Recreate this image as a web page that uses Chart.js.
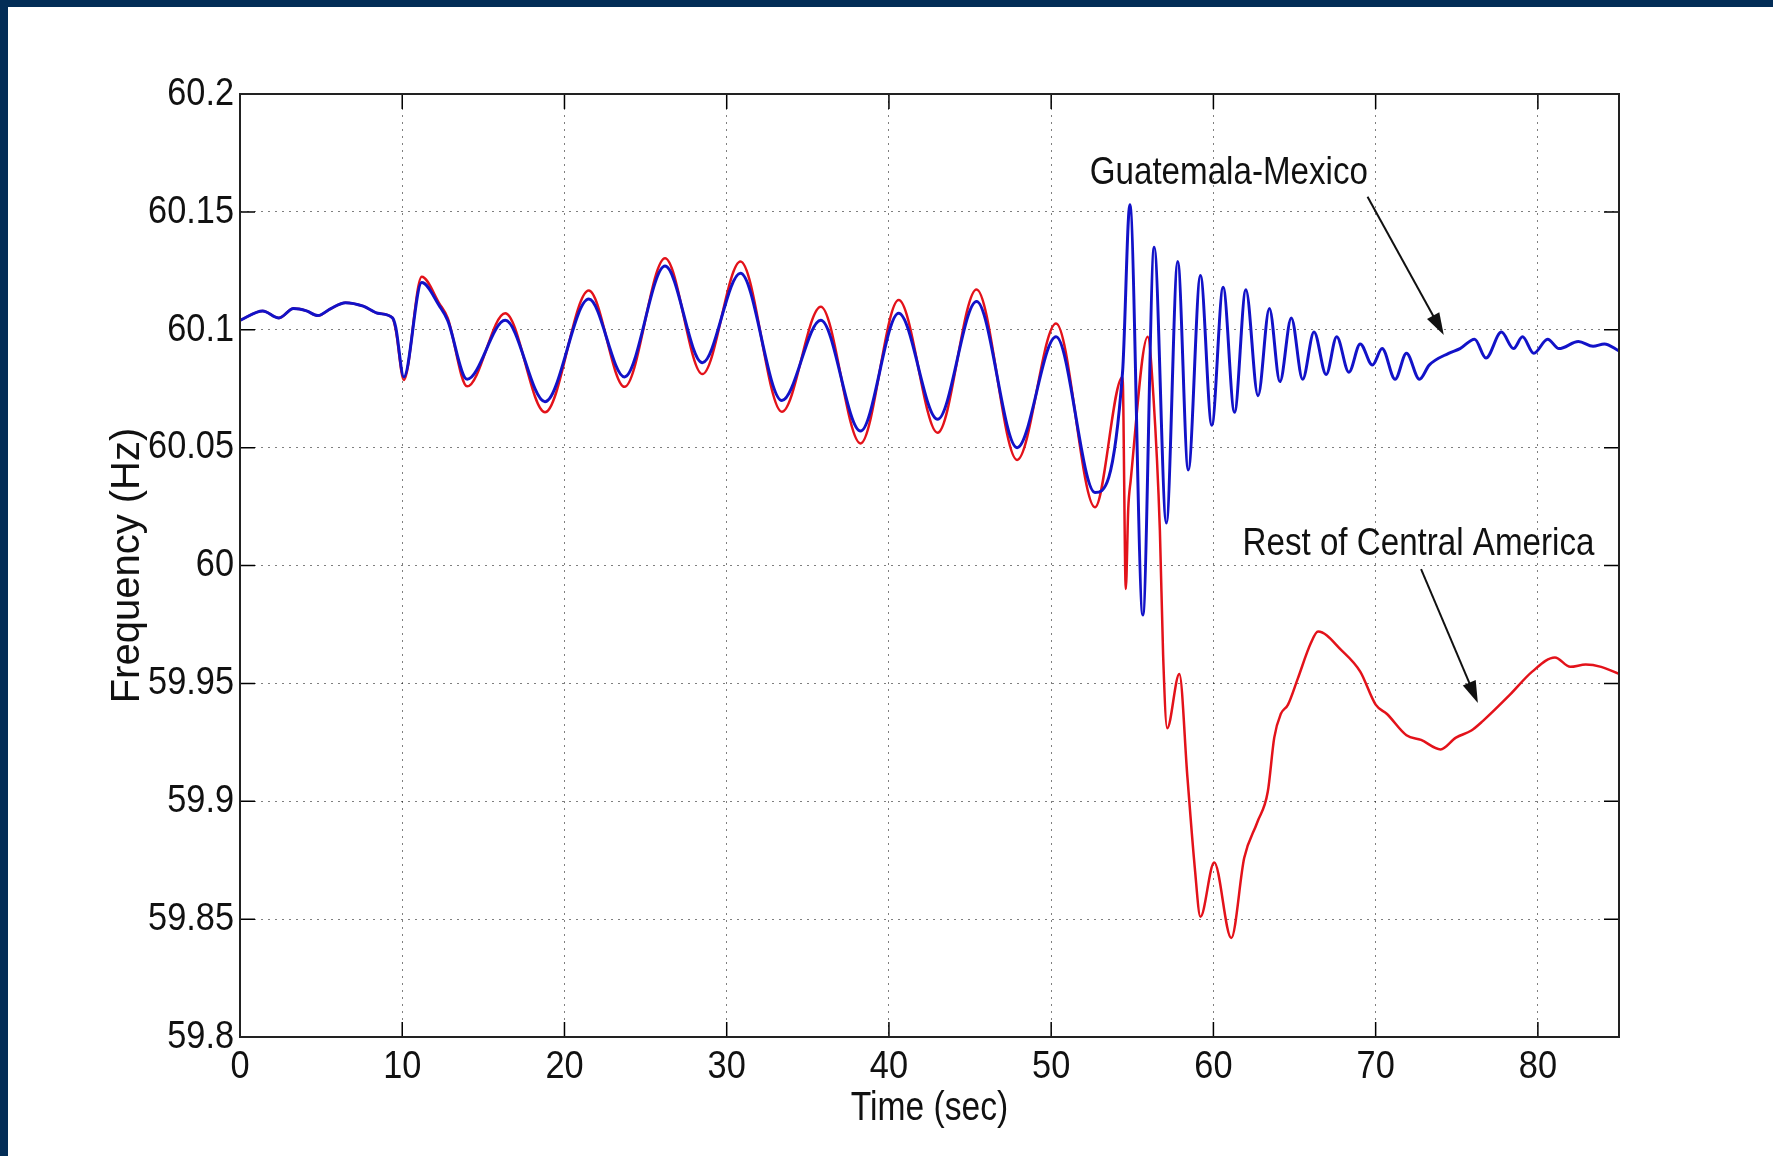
<!DOCTYPE html>
<html>
<head>
<meta charset="utf-8">
<title>Frequency (Hz)</title>
<script src="https://cdn.jsdelivr.net/npm/chart.js@4.4.1/dist/chart.umd.min.js"></script>
<style>
  html, body { margin: 0; padding: 0; background: #fff; overflow: hidden; }
  #wrap { position: relative; width: 1773px; height: 1156px; }
  #myChart { position: absolute; left: 0; top: 0; }
  .bar { position: absolute; background: #032d57; }
</style>
</head>
<body>
<div id="wrap">
  <canvas id="myChart" width="1773" height="1156"></canvas>
  <div class="bar" style="left:0;top:0;width:1773px;height:7px"></div>
  <div class="bar" style="left:0;top:0;width:8px;height:1156px"></div>
</div>
<script>
// Guatemala-Mexico (blue)
const timeGM = [0, 1.4, 2.4, 3.3, 4.1, 4.8, 5.6, 6.5, 7.6, 8.5, 9.4, 9.6, 10.1, 11.2, 12.3, 12.8, 14.0, 16.35, 18.8, 21.5,
  23.7, 26.2, 28.5, 30.85, 33.4, 35.8, 38.25, 40.6, 43.0, 45.4, 47.9, 50.3, 52.7, 54.4, 54.85, 55.65, 56.35, 57.1, 57.8, 58.45,
  59.2, 59.9, 60.6, 61.3, 62.0, 62.75, 63.45, 64.1, 64.8, 65.5, 66.2, 66.95, 67.6, 68.35, 69.05, 69.8, 70.4, 71.2, 71.9, 72.7,
  73.3, 74.5, 75.2, 76.1, 76.8, 77.75, 78.5, 79.05, 79.75, 80.6, 81.3, 82.5, 83.4, 84.1, 85];
const freqGM = [60.104, 60.108, 60.105, 60.109, 60.108, 60.106, 60.109, 60.1115, 60.110, 60.107, 60.105, 60.101, 60.080, 60.120, 60.110, 60.104, 60.079, 60.104, 60.0695, 60.113,
  60.080, 60.127, 60.086, 60.124, 60.070, 60.104, 60.057, 60.107, 60.062, 60.112, 60.050, 60.097, 60.031, 60.082, 60.153, 59.979, 60.135, 60.018, 60.129, 60.0405,
  60.123, 60.0595, 60.118, 60.065, 60.117, 60.072, 60.109, 60.078, 60.105, 60.079, 60.099, 60.081, 60.097, 60.082, 60.094, 60.085, 60.092, 60.079, 60.090, 60.079,
  60.085, 60.090, 60.092, 60.096, 60.088, 60.099, 60.092, 60.097, 60.090, 60.096, 60.092, 60.095, 60.093, 60.094, 60.091];

// Rest of Central America (red)
const timeCA = [0, 1.4, 2.4, 3.3, 4.1, 4.8, 5.6, 6.5, 7.6, 8.5, 9.4, 9.6, 10.1, 11.2, 12.3, 12.8, 14.0, 16.35, 18.8, 21.5,
  23.7, 26.2, 28.5, 30.85, 33.4, 35.8, 38.25, 40.6, 43.0, 45.4, 47.9, 50.3, 52.7, 54.4, 54.6, 54.75, 54.9, 55.95, 56.3, 56.7,
  56.9, 57.15, 57.9, 58.4, 58.85, 59.2, 60.05, 61.1, 61.9, 62.7, 63.35, 63.75, 64.15, 64.6, 65.2, 66.0, 66.45, 67.9, 69.05, 70.0,
  70.7, 71.9, 72.8, 74.0, 74.95, 75.9, 76.6, 78.25, 79.65, 81.05, 82.0, 82.95, 83.9, 85];
const freqCA = [60.104, 60.108, 60.105, 60.109, 60.108, 60.106, 60.109, 60.1115, 60.110, 60.107, 60.105, 60.100, 60.0787, 60.1225, 60.111, 60.105, 60.076, 60.107, 60.065, 60.1166,
  60.0758, 60.1303, 60.0812, 60.1289, 60.0652, 60.1098, 60.0518, 60.1126, 60.0563, 60.1171, 60.0448, 60.1027, 60.0247, 60.080, 59.990, 60.024, 60.036, 60.097, 60.072, 60.015,
  59.962, 59.931, 59.954, 59.910, 59.872, 59.851, 59.874, 59.842, 59.876, 59.891, 59.904, 59.927, 59.937, 59.941, 59.952, 59.967, 59.972, 59.964, 59.955, 59.941,
  59.937, 59.928, 59.926, 59.922, 59.927, 59.930, 59.934, 59.945, 59.955, 59.961, 59.957, 59.958, 59.957, 59.954];

const xTicks = [0, 10, 20, 30, 40, 50, 60, 70, 80];
const xTickLabels = ['0', '10', '20', '30', '40', '50', '60', '70', '80'];
const yTicks = [59.8, 59.85, 59.9, 59.95, 60, 60.05, 60.1, 60.15, 60.2];
const yTickLabels = ['59.8', '59.85', '59.9', '59.95', '60', '60.05', '60.1', '60.15', '60.2'];
const xTitle = 'Time (sec)';
const yTitle = 'Frequency (Hz)';

// text labels with arrows, in data coordinates
const notes = [
  {text: 'Guatemala-Mexico', x: 60.95, y: 60.1665, from: [69.5, 60.1564], to: [74.2, 60.0978]},
  {text: 'Rest of Central America', x: 72.64, y: 60.0091, from: [72.8, 59.9985], to: [76.3, 59.9417]}
];

const sans = "'Liberation Sans', Arial, sans-serif";

const toPoints = (xs, ys) => xs.map((t, i) => ({x: t, y: ys[i]}));

// MATLAB fonts are narrow: squeeze text horizontally
function narrowText(ctx, text, x, y, squeeze) {
  ctx.save();
  ctx.translate(x, y);
  ctx.scale(squeeze, 1);
  ctx.fillText(text, 0, 0);
  ctx.restore();
}

// inward ticks, full box, tick labels and arrow notes (MATLAB style)
const matlabFrame = {
  id: 'matlabFrame',
  afterDatasetsDraw(chart) {
    const {ctx, chartArea: a, scales: {x, y}} = chart;
    ctx.save();
    ctx.strokeStyle = '#000';
    ctx.lineWidth = 1.5;
    ctx.beginPath();
    yTicks.forEach(v => {
      const py = y.getPixelForValue(v);
      ctx.moveTo(a.left, py); ctx.lineTo(a.left + 15, py);
      ctx.moveTo(a.right, py); ctx.lineTo(a.right - 15, py);
    });
    xTicks.forEach(v => {
      const px = x.getPixelForValue(v);
      ctx.moveTo(px, a.bottom); ctx.lineTo(px, a.bottom - 15);
      ctx.moveTo(px, a.top); ctx.lineTo(px, a.top + 15);
    });
    ctx.stroke();

    ctx.lineWidth = 2;
    ctx.strokeStyle = '#222';
    ctx.strokeRect(a.left, a.top, a.right - a.left, a.bottom - a.top);

    // tick labels
    ctx.fillStyle = '#111';
    ctx.font = '39px ' + sans;
    ctx.textAlign = 'right';
    ctx.textBaseline = 'middle';
    yTicks.forEach((v, i) => narrowText(ctx, yTickLabels[i], a.left - 6, y.getPixelForValue(v), 0.88));
    ctx.textAlign = 'center';
    xTicks.forEach((v, i) => narrowText(ctx, xTickLabels[i], x.getPixelForValue(v), a.bottom + 30, 0.88));

    // x title
    ctx.font = '40px ' + sans;
    narrowText(ctx, xTitle, (a.left + a.right) / 2, a.bottom + 72, 0.84);

    // notes
    ctx.font = '39px ' + sans;
    notes.forEach(n => {
      narrowText(ctx, n.text, x.getPixelForValue(n.x), y.getPixelForValue(n.y), 0.85);
      const x1 = x.getPixelForValue(n.from[0]), y1 = y.getPixelForValue(n.from[1]);
      const x2 = x.getPixelForValue(n.to[0]), y2 = y.getPixelForValue(n.to[1]);
      const ang = Math.atan2(y2 - y1, x2 - x1);
      ctx.strokeStyle = '#111';
      ctx.lineWidth = 2;
      ctx.beginPath();
      ctx.moveTo(x1, y1);
      ctx.lineTo(x2 - 14 * Math.cos(ang), y2 - 14 * Math.sin(ang));
      ctx.stroke();
      ctx.beginPath();
      ctx.moveTo(x2, y2);
      ctx.lineTo(x2 - 22 * Math.cos(ang) + 7 * Math.sin(ang), y2 - 22 * Math.sin(ang) - 7 * Math.cos(ang));
      ctx.lineTo(x2 - 22 * Math.cos(ang) - 7 * Math.sin(ang), y2 - 22 * Math.sin(ang) + 7 * Math.cos(ang));
      ctx.closePath();
      ctx.fill();
    });
    ctx.restore();
  }
};

new Chart(document.getElementById('myChart'), {
  type: 'line',
  data: {
    datasets: [{
      label: 'Guatemala-Mexico',
      data: toPoints(timeGM, freqGM),
      borderColor: '#1212c8',
      borderWidth: 3,
      pointRadius: 0,
      cubicInterpolationMode: 'monotone'
    }, {
      label: 'Rest of Central America',
      data: toPoints(timeCA, freqCA),
      borderColor: '#e3121a',
      borderWidth: 2.5,
      pointRadius: 0,
      cubicInterpolationMode: 'monotone'
    }]
  },
  options: {
    responsive: false,
    animation: false,
    layout: {padding: {top: 94, right: 154, bottom: 0, left: 0}},
    plugins: {
      legend: {display: false},
      tooltip: {enabled: false}
    },
    scales: {
      x: {
        type: 'linear',
        min: 0,
        max: 85,
        afterBuildTicks: s => { s.ticks = xTicks.map(v => ({value: v})); },
        afterFit: s => { s.height = 119; },
        ticks: {display: false},
        grid: {color: 'rgba(0,0,0,0.5)', lineWidth: 1, drawTicks: false},
        border: {display: false, dash: [2, 5]}
      },
      y: {
        min: 59.8,
        max: 60.2,
        afterBuildTicks: s => { s.ticks = yTicks.map(v => ({value: v})); },
        afterFit: s => { s.width = 240; },
        ticks: {display: false},
        grid: {color: 'rgba(0,0,0,0.5)', lineWidth: 1, drawTicks: false},
        border: {display: false, dash: [2, 5]},
        title: {
          display: true,
          text: yTitle,
          color: '#111',
          font: {family: sans, size: 40},
          padding: {top: 104, bottom: 0}
        }
      }
    }
  },
  plugins: [matlabFrame]
});
</script>
</body>
</html>
